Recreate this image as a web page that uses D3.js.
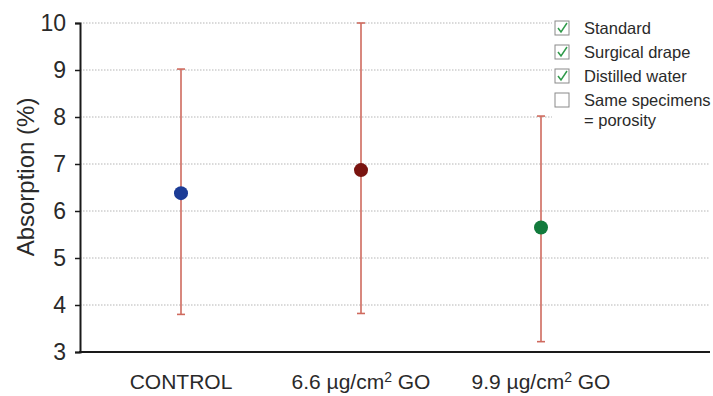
<!DOCTYPE html>
<html>
<head>
<meta charset="utf-8">
<script src="https://cdn.jsdelivr.net/npm/d3@7"></script>
<style>
  body { margin: 0; background: #fff; }
  text { font-family: "Liberation Sans", Arial, sans-serif; }
</style>
</head>
<body>
<script>
// values
var categories = ["CONTROL", "6.6 µg/cm² GO", "9.9 µg/cm² GO"];
var means = [6.38, 6.87, 5.65];
var upper = [9.02, 10.0, 8.02];
var lower = [3.80, 3.82, 3.22];
var point_colors = ["#1c3c96", "#7a1410", "#127a3c"];
var y_ticks = [3, 4, 5, 6, 7, 8, 9, 10];
var legend_items = ["Standard", "Surgical drape", "Distilled water", "Same specimens"];
var legend_checked = [true, true, true, false];

var width = 713, height = 396;
var plot_left = 80, plot_right = 710, plot_top = 23, plot_bottom = 352;

var svg = d3.select("body").append("svg")
    .attr("width", width)
    .attr("height", height);

var x_scale = d3.scaleBand().domain(categories).range([91, 631]);
var x_center = function(d) { return x_scale(d) + x_scale.bandwidth() / 2; };
var y_scale = d3.scaleLinear().domain([3, 10]).range([plot_bottom, plot_top]);

// grid
svg.append("g").selectAll("line")
    .data(y_ticks.slice(1))
  .enter().append("line")
    .attr("x1", plot_left).attr("x2", plot_right)
    .attr("y1", function(d) { return y_scale(d); })
    .attr("y2", function(d) { return y_scale(d); })
    .attr("stroke", "#b5b5b5")
    .attr("stroke-width", 1)
    .attr("stroke-dasharray", "1.5,1.5");

// y axis
var y_axis = d3.axisLeft(y_scale).tickValues(y_ticks).tickFormat(d3.format("d"))
    .tickSize(5).tickPadding(9);
var gy = svg.append("g")
    .attr("transform", "translate(" + plot_left + ",0)")
    .call(y_axis);
gy.select(".domain").attr("stroke", "#1a1a1a").attr("stroke-width", 2);
gy.selectAll(".tick line").attr("stroke", "#1a1a1a").attr("stroke-width", 1.5);
gy.selectAll(".tick text")
    .attr("fill", "#2a2a2a")
    .style("font-size", "23px");

// x axis line
svg.append("line")
    .attr("x1", plot_left - 1).attr("x2", plot_right)
    .attr("y1", plot_bottom).attr("y2", plot_bottom)
    .attr("stroke", "#1a1a1a")
    .attr("stroke-width", 2);

// x labels
svg.append("g").selectAll("text")
    .data(categories)
  .enter().append("text")
    .attr("x", x_center)
    .attr("y", 389)
    .attr("text-anchor", "middle")
    .attr("fill", "#2a2a2a")
    .style("font-size", "21px")
    .each(function(d) {
      var t = d3.select(this);
      var parts = d.split("²");
      if (parts.length > 1) {
        t.append("tspan").text(parts[0]);
        t.append("tspan").attr("dy", -7).style("font-size", "14px").text("2");
        t.append("tspan").attr("dy", 7).text(parts[1]);
      } else {
        t.text(d);
      }
    });

// y title
svg.append("text")
    .attr("transform", "translate(34," + 177 + ") rotate(-90)")
    .attr("text-anchor", "middle")
    .attr("fill", "#2a2a2a")
    .style("font-size", "24px")
    .text("Absorption (%)");

// error bars
var err = svg.append("g").selectAll("g")
    .data(categories)
  .enter().append("g")
    .attr("stroke", "#cf6a5e")
    .attr("stroke-width", 1.6);
err.append("line")
    .attr("x1", x_center).attr("x2", x_center)
    .attr("y1", function(d, i) { return y_scale(upper[i]); })
    .attr("y2", function(d, i) { return y_scale(lower[i]); });
err.append("line")
    .attr("x1", function(d) { return x_center(d) - 4; })
    .attr("x2", function(d) { return x_center(d) + 4; })
    .attr("y1", function(d, i) { return y_scale(upper[i]); })
    .attr("y2", function(d, i) { return y_scale(upper[i]); });
err.append("line")
    .attr("x1", function(d) { return x_center(d) - 4; })
    .attr("x2", function(d) { return x_center(d) + 4; })
    .attr("y1", function(d, i) { return y_scale(lower[i]); })
    .attr("y2", function(d, i) { return y_scale(lower[i]); });

// points
svg.append("g").selectAll("circle")
    .data(categories)
  .enter().append("circle")
    .attr("cx", x_center)
    .attr("cy", function(d, i) { return y_scale(means[i]); })
    .attr("r", 7)
    .attr("fill", function(d, i) { return point_colors[i]; });

// legend
var legend = svg.append("g").attr("transform", "translate(552,18)");
legend.append("rect")
    .attr("x", 0).attr("y", -2)
    .attr("width", 161).attr("height", 112)
    .attr("fill", "#fff");
var rows = legend.selectAll("g")
    .data(legend_items)
  .enter().append("g")
    .attr("transform", function(d, i) { return "translate(0," + (i * 24) + ")"; });
rows.append("rect")
    .attr("x", 3).attr("y", 3)
    .attr("width", 14).attr("height", 14)
    .attr("fill", "#fff")
    .attr("stroke", "#8a8a8a")
    .attr("stroke-width", 1);
rows.filter(function(d, i) { return legend_checked[i]; })
  .append("path")
    .attr("d", "M6,10 L9,14 L15,5")
    .attr("fill", "none")
    .attr("stroke", "#2f9a4a")
    .attr("stroke-width", 1.5);
rows.append("text")
    .attr("x", 32).attr("y", 16)
    .attr("fill", "#2a2a2a")
    .style("font-size", "16.5px")
    .text(function(d) { return d; });
legend.append("text")
    .attr("x", 32).attr("y", 108)
    .attr("fill", "#2a2a2a")
    .style("font-size", "16.5px")
    .text("= porosity");
</script>
</body>
</html>
